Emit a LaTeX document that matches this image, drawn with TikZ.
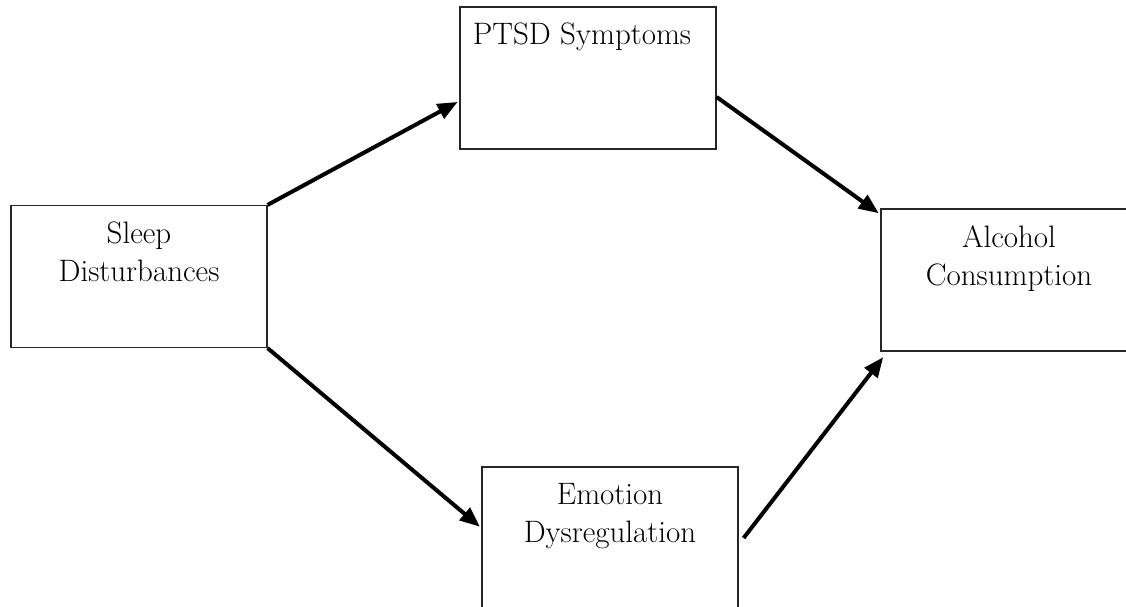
\documentclass[tikz,border=0pt]{standalone}
\usepackage{fontspec}
\usepackage{tikz}
\usetikzlibrary{arrows.meta}
\usetikzlibrary{calc}
\usetikzlibrary{positioning}

\begin{document}
\begin{tikzpicture}[x=1pt, y=1pt,
        box_style/.style={rectangle,draw=black!85,line width=1.2pt,minimum width=256pt,minimum height=142pt,inner sep=0pt},
        label_style/.style={align=center,inner sep=0pt,font=\fontsize{31}{38}\selectfont},
        edge_style/.style={draw=black, line width=4pt, -{Triangle[length=20pt,width=16pt]}, shorten >=2pt}]

        \useasboundingbox (0,0) rectangle (1126,607);

        \node [box_style](n1) at (139,330.5) {};
        \node [label_style, below=16.5pt of n1.north](t1) {Sleep\\Disturbances};

        \node [box_style](n2) at (588,529) {};
        \node [label_style, below=16.5pt of n2.north, xshift=-6pt](t2) {PTSD Symptoms};

        \node [box_style](n3) at (1009,327) {};
        \node [label_style, below=16.5pt of n3.north](t3) {Alcohol\\Consumption};

        \node [box_style](n4) at (610,69) {};
        \node [label_style, below=16.5pt of n4.north](t4) {Emotion\\Dysregulation};

        \draw [edge_style] (n1.north east) -- ([yshift=-23pt]n2.west);

        \draw [edge_style] ([yshift=-19pt]n2.east) -- ([yshift=-6pt]n3.north west);

        \draw [edge_style] (n1.south east) -- ([yshift=10pt]n4.west);

        \draw [edge_style] ([xshift=5pt]n4.east) -- ([xshift=4pt,yshift=-4pt]n3.south west);

        \end{tikzpicture}
\end{document}
